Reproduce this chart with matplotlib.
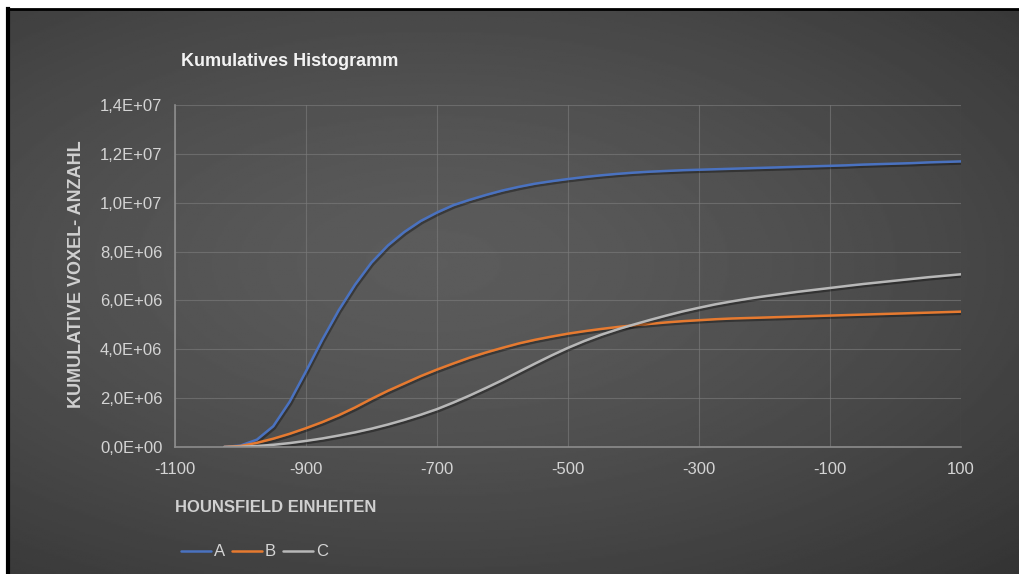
import matplotlib
matplotlib.use("Agg")
import matplotlib.pyplot as plt
import matplotlib.patheffects as pe
import numpy as np
from matplotlib.ticker import FuncFormatter, FixedLocator, MultipleLocator

plt.rcParams["font.family"] = ["Liberation Sans", "DejaVu Sans"]

# Hounsfield-Einheiten
hu = list(range(-1025, 101, 25))
x_ticks = list(range(-1100, 101, 200))

# kumulative Voxel-Anzahl in Mio.
a_mio = [0, 0.06, 0.3, 0.85, 1.85, 3.1, 4.4, 5.6, 6.65, 7.55, 8.25, 8.8, 9.25, 9.6,
         9.9, 10.12, 10.32, 10.5, 10.65, 10.78, 10.88, 10.97, 11.05, 11.12, 11.18,
         11.23, 11.27, 11.3, 11.33, 11.35, 11.37, 11.39, 11.41, 11.43, 11.45, 11.47,
         11.49, 11.51, 11.53, 11.56, 11.58, 11.6, 11.62, 11.65, 11.67, 11.69]
b_mio = [0, 0.04, 0.17, 0.34, 0.54, 0.77, 1.02, 1.3, 1.62, 1.97, 2.3, 2.6, 2.9,
         3.17, 3.42, 3.66, 3.87, 4.06, 4.24, 4.39, 4.52, 4.64, 4.74, 4.83, 4.91,
         4.98, 5.04, 5.1, 5.15, 5.19, 5.23, 5.26, 5.28, 5.3, 5.32, 5.34, 5.36, 5.38,
         5.4, 5.42, 5.44, 5.46, 5.48, 5.5, 5.52, 5.54]
c_mio = [0, 0.01, 0.04, 0.09, 0.16, 0.25, 0.35, 0.47, 0.6, 0.75, 0.92, 1.11, 1.32,
         1.55, 1.82, 2.11, 2.42, 2.74, 3.08, 3.42, 3.75, 4.06, 4.34, 4.59, 4.81,
         5.01, 5.2, 5.38, 5.55, 5.7, 5.84, 5.96, 6.07, 6.17, 6.26, 6.35, 6.43, 6.51,
         6.59, 6.67, 6.74, 6.81, 6.88, 6.95, 7.01, 7.07]

series = {"A": a_mio, "B": b_mio, "C": c_mio}
colors = {"A": "#4a72c0", "B": "#e67a30", "C": "#b8b8b8"}

W, H = 1019, 574
fig = plt.figure(figsize=(W / 100, H / 100), dpi=100)
fig.patch.set_facecolor("white")

# Hintergrund mit radialem Verlauf
bg = fig.add_axes([9 / W, 0, 1 - 9 / W, 1 - 10 / H])
yy, xx = np.mgrid[0:1:300j, 0:1:500j]
r = np.sqrt(((xx - 0.42) / 1.0) ** 2 + ((yy - 0.45) / 0.9) ** 2)
shade = np.clip(0.36 - 0.20 * r ** 1.4, 0.16, 0.36)
bg.imshow(shade, cmap="gray", vmin=0, vmax=1, aspect="auto", extent=[0, 1, 0, 1])
bg.set_axis_off()
# schwarzer Rahmen links/oben
fig.add_artist(plt.Line2D([7.5 / W, 7.5 / W], [0, 1 - 9 / H], color="black", lw=3))
fig.add_artist(plt.Line2D([7.5 / W, 1], [1 - 9 / H, 1 - 9 / H], color="black", lw=2))

ax = fig.add_axes([175 / W, 1 - 447 / H, (961 - 175) / W, (447 - 105) / H])
ax.set_facecolor("none")
shadow = [pe.SimpleLineShadow(offset=(1, -1.5), shadow_color="black", alpha=0.35),
          pe.Normal()]
for name, vals in series.items():
    ax.plot(hu, np.array(vals) * 1e6, color=colors[name], lw=1.8, label=name,
            solid_capstyle="round", path_effects=shadow)

ax.set_xlim(-1100, 100)
ax.set_ylim(0, 1.4e7)
ax.xaxis.set_major_locator(FixedLocator(x_ticks))
ax.xaxis.set_major_formatter(FuncFormatter(lambda v, p: f"{int(v)}"))
ax.yaxis.set_major_locator(MultipleLocator(2e6))
ax.yaxis.set_major_formatter(FuncFormatter(lambda v, p: f"{v:.1E}".replace(".", ",")))
ax.grid(True, color="#7a7a7a", lw=0.8, alpha=0.65)
ax.set_axisbelow(True)
for s in ["top", "right"]:
    ax.spines[s].set_visible(False)
for s in ["left", "bottom"]:
    ax.spines[s].set_color("#8c8c8c")
    ax.spines[s].set_linewidth(1.2)
ax.tick_params(length=0, colors="#d4d4d4", labelsize=12)
ax.tick_params(axis="x", pad=11)
ax.tick_params(axis="y", pad=9)

fig.text(181 / W, 1 - 61 / H, "Kumulatives Histogramm", color="#f2f2f2",
         fontsize=13, fontweight="bold", va="center", ha="left")
fig.text(77 / W, 1 - 274 / H, "KUMULATIVE VOXEL- ANZAHL", color="#d0d0d0",
         fontsize=13, fontweight="bold", rotation=90, va="center", ha="center")
fig.text(175 / W, 1 - 508 / H, "HOUNSFIELD EINHEITEN", color="#d0d0d0",
         fontsize=12, fontweight="bold", va="center", ha="left")

leg = ax.legend(loc="center left", bbox_to_anchor=(181 / W, 1 - 552 / H),
                bbox_transform=fig.transFigure, ncol=3, frameon=False,
                handlelength=1.8, handletextpad=0.15, columnspacing=0.45,
                fontsize=12, borderaxespad=0, borderpad=0)
for t in leg.get_texts():
    t.set_color("#d4d4d4")
for h in leg.get_lines():
    h.set_path_effects([])

fig.savefig("out.png", dpi=100, facecolor=fig.get_facecolor())
